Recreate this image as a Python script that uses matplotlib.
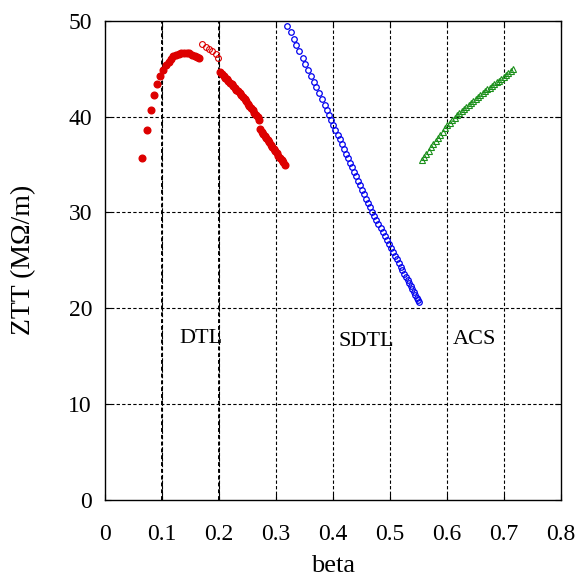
import matplotlib
matplotlib.use("Agg")
import matplotlib.pyplot as plt

plt.rcParams["font.family"] = ["Liberation Serif", "DejaVu Serif"]

# DTL, first tank (filled red)
dtl1_beta = [0.0662, 0.0739, 0.0809, 0.0868, 0.0926, 0.0978, 0.1031, 0.1083,
             0.1125, 0.1165, 0.1206, 0.1253, 0.1300, 0.1346, 0.1393, 0.1440,
             0.1486, 0.1533, 0.1581, 0.1621, 0.1661]
dtl1_ztt = [35.65, 38.57, 40.68, 42.28, 43.36, 44.23, 44.86, 45.35,
            45.72, 46.04, 46.29, 46.45, 46.56, 46.63, 46.66, 46.66,
            46.60, 46.45, 46.35, 46.24, 46.11]

# DTL, open red circles
dtl_open_beta = [0.1714, 0.1773, 0.1831, 0.1889, 0.1948, 0.1994]
dtl_open_ztt = [47.54, 47.29, 47.05, 46.81, 46.53, 46.11]

# DTL, second tank
dtl2_beta = [0.2030, 0.2058, 0.2087, 0.2115, 0.2143, 0.2172, 0.2200, 0.2228,
             0.2257, 0.2285, 0.2313, 0.2342, 0.2370, 0.2398, 0.2427, 0.2455,
             0.2483, 0.2512, 0.2540, 0.2568, 0.2597, 0.2625, 0.2653, 0.2682,
             0.2710]
dtl2_ztt = [44.60, 44.42, 44.24, 44.06, 43.88, 43.70, 43.52, 43.35,
            43.17, 42.99, 42.81, 42.63, 42.45, 42.25, 42.03, 41.81,
            41.59, 41.36, 41.12, 40.88, 40.64, 40.40, 40.16, 39.92,
            39.68]

# DTL, third tank
dtl3_beta = [0.2730, 0.2757, 0.2783, 0.2810, 0.2836, 0.2863, 0.2890, 0.2916,
             0.2943, 0.2969, 0.2996, 0.3023, 0.3049, 0.3076, 0.3102, 0.3129,
             0.3155]
dtl3_ztt = [38.67, 38.44, 38.21, 37.98, 37.76, 37.53, 37.30, 37.07,
            36.84, 36.61, 36.38, 36.15, 35.92, 35.69, 35.46, 35.23,
            35.00]

# SDTL
sdtl_beta = [0.320, 0.326, 0.332, 0.336, 0.341, 0.347, 0.352, 0.357, 0.362,
             0.367, 0.371, 0.376, 0.381, 0.386, 0.390, 0.394, 0.397,
             0.4008, 0.4046, 0.4084, 0.4120, 0.4157, 0.4194, 0.4231, 0.4267,
             0.4303, 0.4339, 0.4375, 0.4411, 0.4446, 0.4481, 0.4516, 0.4550,
             0.4585, 0.4619, 0.4653, 0.4686,
             0.4725, 0.4763, 0.4801, 0.4839, 0.4875, 0.4912, 0.4948, 0.4984,
             0.5019, 0.5054, 0.5089, 0.5123, 0.5156, 0.5188, 0.5221, 0.5252,
             0.5283, 0.5313, 0.5342, 0.5370, 0.5397, 0.5423, 0.5448, 0.5472,
             0.5494, 0.5514]
sdtl_ztt = [49.45, 48.79, 48.09, 47.43, 46.81, 46.14, 45.51, 44.89, 44.26,
            43.64, 43.05, 42.43, 41.80, 41.21, 40.65, 40.13, 39.61,
            39.10, 38.60, 38.10, 37.61, 37.12, 36.63, 36.14, 35.66,
            35.18, 34.70, 34.22, 33.75, 33.28, 32.81, 32.35, 31.89,
            31.43, 30.98, 30.53, 30.08,
            29.64, 29.20, 28.77, 28.34, 27.92, 27.50, 27.09, 26.68,
            26.28, 25.88, 25.49, 25.10, 24.72, 24.35, 23.98, 23.62,
            23.27, 22.93, 22.60, 22.28, 21.97, 21.67, 21.39, 21.12,
            20.87, 20.64]

# ACS
acs_beta = [0.5560, 0.5601, 0.5642, 0.5683, 0.5724, 0.5765, 0.5806, 0.5847,
            0.5888, 0.5929, 0.5970, 0.6011, 0.6052, 0.6093, 0.6134, 0.6175,
            0.6216, 0.6257, 0.6298, 0.6339, 0.6380, 0.6421, 0.6462, 0.6503,
            0.6544, 0.6585, 0.6626, 0.6667, 0.6708, 0.6749, 0.6790, 0.6831,
            0.6872, 0.6913, 0.6954, 0.6995, 0.7036, 0.7077, 0.7118, 0.7160]
acs_ztt = [35.45, 35.79, 36.12, 36.46, 36.79, 37.12, 37.45, 37.78,
           38.10, 38.43, 38.76, 39.07, 39.35, 39.62, 39.88, 40.12,
           40.35, 40.57, 40.79, 41.01, 41.23, 41.45, 41.66, 41.87,
           42.08, 42.28, 42.48, 42.67, 42.85, 43.03, 43.21, 43.39,
           43.57, 43.75, 43.94, 44.13, 44.33, 44.53, 44.73, 44.93]

labels = ["DTL", "SDTL", "ACS"]
label_beta = [0.169, 0.458, 0.649]
label_ztt = [16.9, 16.5, 16.7]

xticks = [0, 0.1, 0.2, 0.3, 0.4, 0.5, 0.6, 0.7, 0.8]
xticklabels = ["0", "0.1", "0.2", "0.3", "0.4", "0.5", "0.6", "0.7", "0.8"]
yticks = [0, 10, 20, 30, 40, 50]

red = "#dd0000"
blue = "#0000ee"
green = "#1a8f1a"

fig = plt.figure(figsize=(5.79, 5.82), dpi=100)
ax = fig.add_axes([0.1805, 0.1409, 0.7884, 0.8235])

# grid
for xv in xticks[1:-1]:
    ax.axvline(xv, color="black", lw=0.8, ls=(0, (3, 2)), zorder=0)
for yv in yticks[1:-1]:
    ax.axhline(yv, color="black", lw=0.8, ls=(0, (3, 2)), zorder=0)
# the 0.1 and 0.2 lines look heavier in the original
for xv in xticks[1:3]:
    ax.axvline(xv, color="black", lw=1.4, ls=(0, (2, 1.5)), zorder=0)

ax.plot(dtl1_beta, dtl1_ztt, "o", color=red, ms=4.8, mec=red, ls="none")
ax.plot(dtl_open_beta, dtl_open_ztt, "o", mfc="none", mec=red, ms=4.2, mew=0.8, ls="none")
ax.plot(dtl2_beta, dtl2_ztt, "o", color=red, ms=4.8, mec=red, ls="none")
ax.plot(dtl3_beta, dtl3_ztt, "o", color=red, ms=4.8, mec=red, ls="none")
ax.plot(sdtl_beta, sdtl_ztt, "o", mfc="none", mec=blue, ms=4.0, mew=0.9, ls="none")
ax.plot(acs_beta, acs_ztt, "^", mfc="none", mec=green, ms=3.8, mew=0.8, ls="none")

for t, bx, zy in zip(labels, label_beta, label_ztt):
    ax.text(bx, zy, t, fontsize=16, ha="center", va="center")

ax.set_xlim(0, 0.8)
ax.set_ylim(0, 50)
ax.set_xticks(xticks)
ax.set_xticklabels(xticklabels)
ax.set_yticks(yticks)
ax.tick_params(direction="in", length=4, width=0.8, top=True, right=True,
               labelsize=17)
ax.tick_params(axis="x", pad=17)
ax.tick_params(axis="y", pad=9)
for s in ax.spines.values():
    s.set_linewidth(1.0)

ax.set_xlabel("beta", fontsize=19)
ax.set_ylabel("ZTT (MΩ/m)", fontsize=20)
ax.xaxis.set_label_coords(0.5, -0.115)
ax.yaxis.set_label_coords(-0.15, 0.5)

fig.savefig("out.png", dpi=100)
